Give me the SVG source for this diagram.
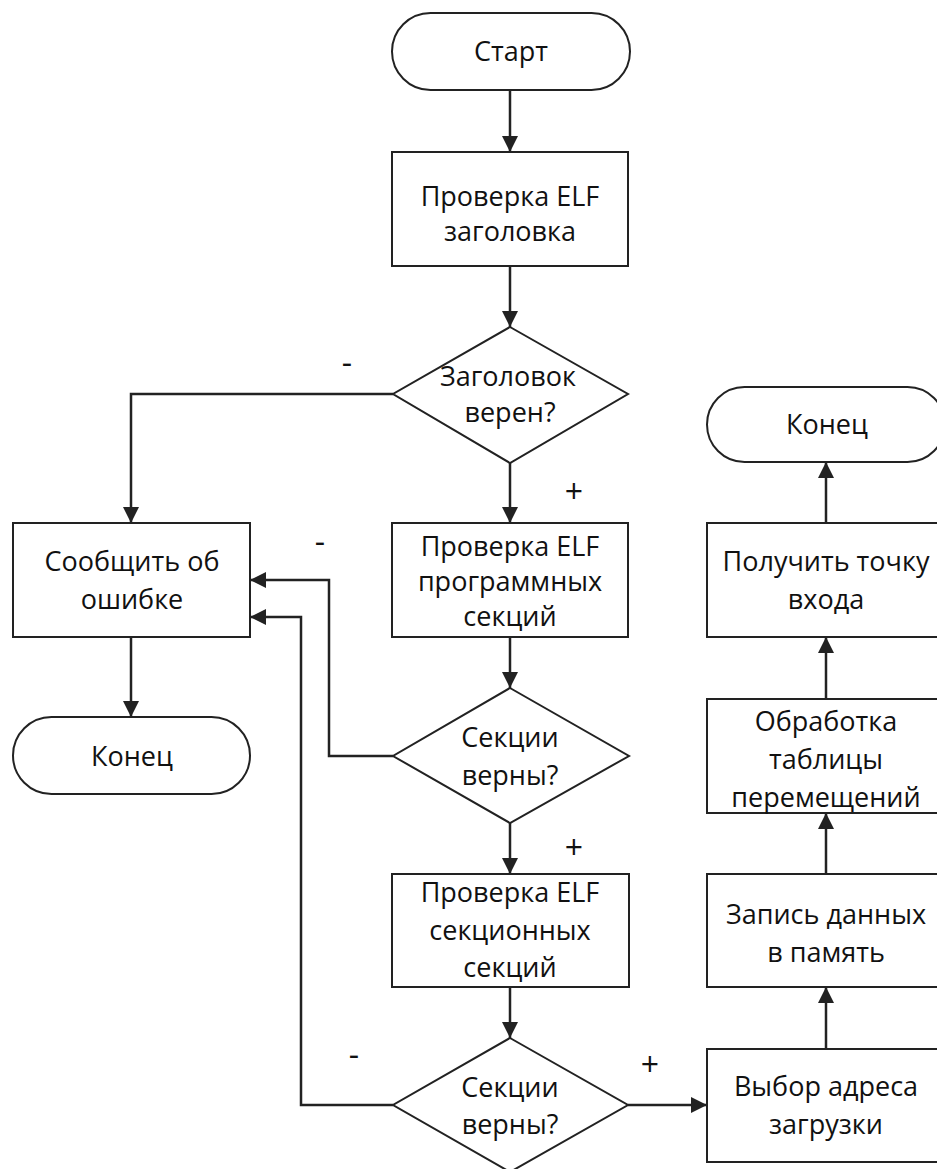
<svg xmlns="http://www.w3.org/2000/svg" width="937" height="1169" viewBox="0 0 937 1169">
<defs>
<marker id="ah" viewBox="0 0 16 16" refX="16" refY="8" markerWidth="16" markerHeight="16" markerUnits="userSpaceOnUse" orient="auto">
<path d="M0,0 L16,8 L0,16 Z" fill="#222"/>
</marker>
<style>
.s{fill:#fff;stroke:#222;stroke-width:2}
.t{font-family:"Open Sans","Noto Sans","DejaVu Sans",sans-serif;font-size:27px;fill:#111;text-anchor:middle}
.c{fill:none;stroke:#222;stroke-width:2.5;marker-end:url(#ah)}
.l{font-family:"Open Sans","Noto Sans","DejaVu Sans",sans-serif;font-size:32px;fill:#111;text-anchor:middle}
</style>
</defs>
<rect width="937" height="1169" fill="#fff"/>
<g id="connectors">
<path class="c" d="M510,90 V152"/>
<path class="c" d="M510,266 V327"/>
<path class="c" d="M393,394 H131 V523"/>
<path class="c" d="M510,463 V523"/>
<path class="c" d="M510,637 V688"/>
<path class="c" d="M393,756 H329 V580 H250"/>
<path class="c" d="M510,823 V874"/>
<path class="c" d="M510,987 V1038"/>
<path class="c" d="M393,1105 H301 V617 H250"/>
<path class="c" d="M628,1105 H707"/>
<path class="c" d="M826,1049 V987"/>
<path class="c" d="M826,874 V813"/>
<path class="c" d="M826,699 V637"/>
<path class="c" d="M826,523 V462"/>
<path class="c" d="M131,637 V717"/>
<text class="l" x="347" y="374">-</text>
<text class="l" x="574" y="503">+</text>
<text class="l" x="320" y="553">-</text>
<text class="l" x="574" y="859">+</text>
<text class="l" x="354" y="1066">-</text>
<text class="l" x="650" y="1076">+</text>
</g>
<g id="start">
<rect class="s" x="392" y="13" width="238" height="77" rx="38.5"/>
<text class="t" x="511" y="61">Старт</text>
</g>
<g id="check-header">
<rect class="s" x="392" y="152" width="236" height="114"/>
<text class="t" x="510" y="206">Проверка ELF</text>
<text class="t" x="510" y="241">заголовка</text>
</g>
<g id="header-ok">
<polygon class="s" points="510,327 628,394 510,463 393,394"/>
<text class="t" x="508" y="386">Заголовок</text>
<text class="t" x="510" y="422">верен?</text>
</g>
<g id="report-error">
<rect class="s" x="13" y="523" width="237" height="114"/>
<text class="t" x="132" y="571">Сообщить об</text>
<text class="t" x="132" y="609">ошибке</text>
</g>
<g id="end-left">
<rect class="s" x="13" y="717" width="237" height="77" rx="38.5"/>
<text class="t" x="132" y="766">Конец</text>
</g>
<g id="check-program">
<rect class="s" x="392" y="523" width="236" height="114"/>
<text class="t" x="510" y="556">Проверка ELF</text>
<text class="t" x="510" y="591">программных</text>
<text class="t" x="510" y="626">секций</text>
</g>
<g id="sections-ok-1">
<polygon class="s" points="510,688 629,756 510,823 393,756"/>
<text class="t" x="510" y="747">Секции</text>
<text class="t" x="510" y="785">верны?</text>
</g>
<g id="check-sections">
<rect class="s" x="392" y="874" width="237" height="113"/>
<text class="t" x="510" y="902">Проверка ELF</text>
<text class="t" x="510" y="940">секционных</text>
<text class="t" x="510" y="977">секций</text>
</g>
<g id="sections-ok-2">
<polygon class="s" points="510,1038 628,1105 510,1172 393,1105"/>
<text class="t" x="510" y="1097">Секции</text>
<text class="t" x="510" y="1134">верны?</text>
</g>
<g id="end-right">
<rect class="s" x="707" y="387" width="238" height="75" rx="37.5"/>
<text class="t" x="827" y="434">Конец</text>
</g>
<g id="entry-point">
<rect class="s" x="707" y="523" width="238" height="114"/>
<text class="t" x="826" y="571">Получить точку</text>
<text class="t" x="826" y="609">входа</text>
</g>
<g id="relocations">
<rect class="s" x="707" y="699" width="238" height="114"/>
<text class="t" x="826" y="731">Обработка</text>
<text class="t" x="826" y="769">таблицы</text>
<text class="t" x="826" y="807">перемещений</text>
</g>
<g id="write-memory">
<rect class="s" x="707" y="874" width="238" height="113"/>
<text class="t" x="826" y="924">Запись данных</text>
<text class="t" x="826" y="962">в память</text>
</g>
<g id="load-address">
<rect class="s" x="707" y="1049" width="238" height="113"/>
<text class="t" x="826" y="1096">Выбор адреса</text>
<text class="t" x="826" y="1134">загрузки</text>
</g>
</svg>
